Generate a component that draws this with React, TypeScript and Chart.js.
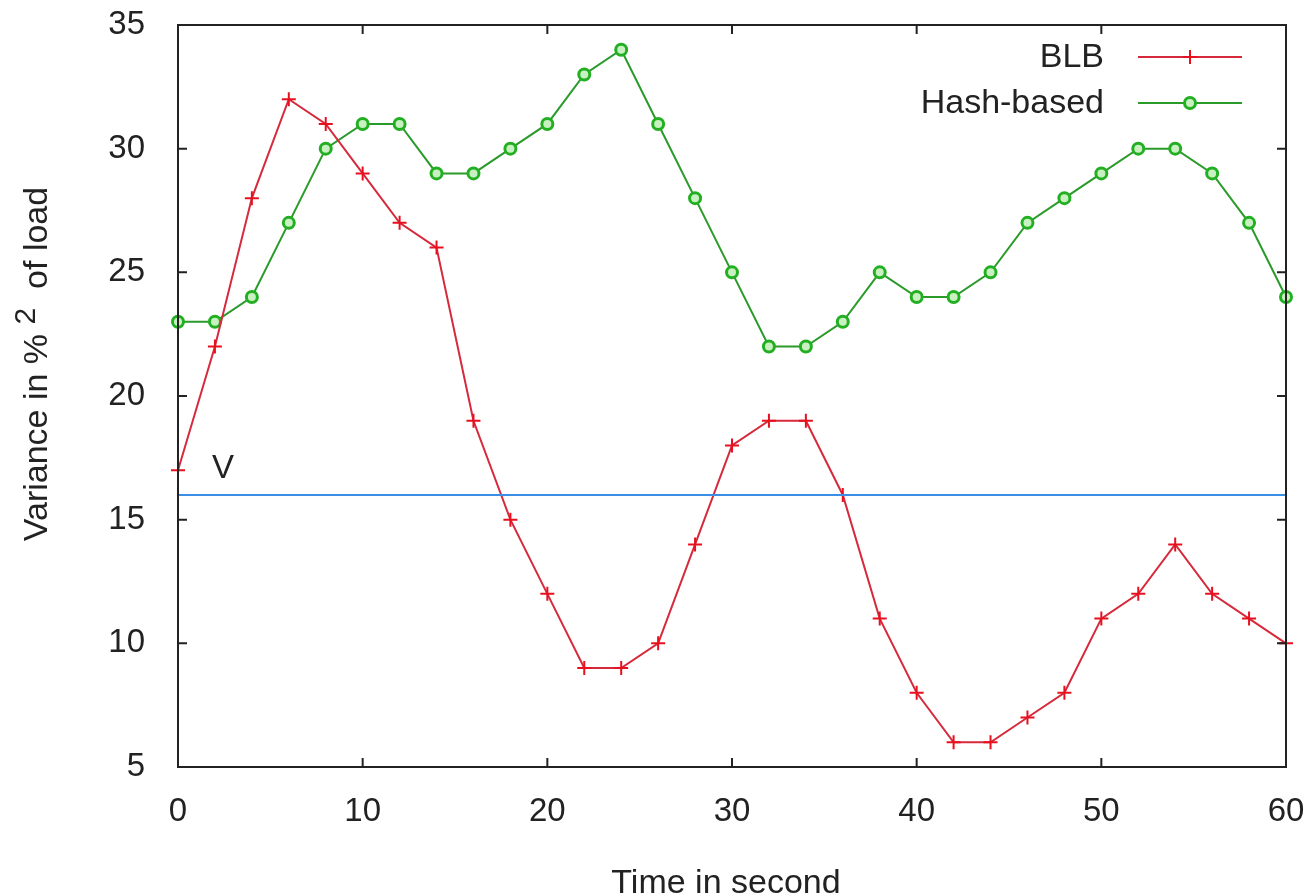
import React, { useEffect, useRef } from "react";
import { Chart, registerables } from "chart.js";

Chart.register(...registerables);

const timeSeconds = [0, 2, 4, 6, 8, 10, 12, 14, 16, 18, 20, 22, 24, 26, 28, 30, 32, 34, 36, 38, 40, 42, 44, 46, 48, 50, 52, 54, 56, 58, 60];
const blbValues = [17, 22, 28, 32, 31, 29, 27, 26, 19, 15, 12, 9, 9, 10, 14, 18, 19, 19, 16, 11, 8, 6, 6, 7, 8, 11, 12, 14, 12, 11, 10];
const hashValues = [23, 23, 24, 27, 30, 31, 31, 29, 29, 30, 31, 33, 34, 31, 28, 25, 22, 22, 23, 25, 24, 24, 25, 27, 28, 29, 30, 30, 29, 27, 24];
const thresholdV = 16;
const thresholdLabel = "V";
const seriesLabels = ["BLB", "Hash-based"];
const xTitle = "Time in second";
const yTitleParts = ["Variance in % ", "2", "  of load"];
const xRange = [0, 60];
const yRange = [5, 35];

const FONT = "'Liberation Sans', Arial, Helvetica, sans-serif";
const RED_LINE = "#d62a3c";
const RED_MARK = "#e8101e";
const GREEN_LINE = "#2a9a2a";
const GREEN_MARK = "#22b022";
const GREEN_FILL = "#c8f0c0";
const BLUE = "#3a8ee6";

function drawCross(ctx: CanvasRenderingContext2D, x: number, y: number, r: number, color: string) {
  ctx.save();
  ctx.strokeStyle = color;
  ctx.lineWidth = 2;
  ctx.beginPath();
  ctx.moveTo(x - r, y);
  ctx.lineTo(x + r, y);
  ctx.moveTo(x, y - r);
  ctx.lineTo(x, y + r);
  ctx.stroke();
  ctx.restore();
}

function drawRing(ctx: CanvasRenderingContext2D, x: number, y: number, r: number, color: string) {
  ctx.save();
  ctx.strokeStyle = color;
  ctx.fillStyle = GREEN_FILL;
  ctx.lineWidth = 3;
  ctx.beginPath();
  ctx.arc(x, y, r, 0, Math.PI * 2);
  ctx.fill();
  ctx.stroke();
  ctx.restore();
}

const framePlugin = {
  id: "gnuFrame",
  afterDatasetsDraw(chart: any) {
    const { ctx, chartArea, scales } = chart;
    const { left, right, top, bottom } = chartArea;
    const xs = scales.x;
    const ys = scales.y;
    ctx.save();
    ctx.strokeStyle = "#222";
    ctx.lineWidth = 2;
    ctx.strokeRect(left, top, right - left, bottom - top);
    const tl = 9;
    ctx.beginPath();
    for (let v = xRange[0] + 10; v < xRange[1]; v += 10) {
      const px = xs.getPixelForValue(v);
      ctx.moveTo(px, bottom);
      ctx.lineTo(px, bottom - tl);
      ctx.moveTo(px, top);
      ctx.lineTo(px, top + tl);
    }
    for (let v = yRange[0] + 5; v < yRange[1]; v += 5) {
      const py = ys.getPixelForValue(v);
      ctx.moveTo(left, py);
      ctx.lineTo(left + tl, py);
      ctx.moveTo(right, py);
      ctx.lineTo(right - tl, py);
    }
    ctx.stroke();

    ctx.fillStyle = "#222";
    ctx.font = `33px ${FONT}`;
    ctx.textAlign = "center";
    ctx.textBaseline = "middle";
    ctx.fillText(thresholdLabel, xs.getPixelForValue(0) + 45, ys.getPixelForValue(thresholdV) - 26);

    const legendRows = [
      { label: seriesLabels[0], line: RED_LINE, mark: "cross" },
      { label: seriesLabels[1], line: GREEN_LINE, mark: "ring" },
    ];
    legendRows.forEach((row, i) => {
      const y = 57 + i * 46;
      ctx.fillStyle = "#222";
      ctx.font = `34px ${FONT}`;
      ctx.textAlign = "right";
      ctx.textBaseline = "middle";
      ctx.fillText(row.label, 1104, y + 1);
      ctx.strokeStyle = row.line;
      ctx.lineWidth = 2;
      ctx.beginPath();
      ctx.moveTo(1138, y);
      ctx.lineTo(1242, y);
      ctx.stroke();
      if (row.mark === "cross") drawCross(ctx, 1190, y, 7, RED_MARK);
      else drawRing(ctx, 1190, y, 5.5, GREEN_MARK);
    });

    ctx.fillStyle = "#222";
    ctx.font = `34px ${FONT}`;
    ctx.textAlign = "center";
    ctx.textBaseline = "alphabetic";
    ctx.fillText(xTitle, (left + right) / 2 - 6, 893);

    ctx.save();
    ctx.translate(47, 364);
    ctx.rotate(-Math.PI / 2);
    const f1 = `34px ${FONT}`;
    const f2 = `30px ${FONT}`;
    ctx.font = f1;
    const w0 = ctx.measureText(yTitleParts[0]).width;
    const w2 = ctx.measureText(yTitleParts[2]).width;
    ctx.font = f2;
    const w1 = ctx.measureText(yTitleParts[1]).width;
    const total = w0 + w1 + w2;
    let cx = -total / 2;
    ctx.textAlign = "left";
    ctx.font = f1;
    ctx.fillText(yTitleParts[0], cx, 0);
    cx += w0;
    ctx.font = f2;
    ctx.fillText(yTitleParts[1], cx, -12);
    cx += w1;
    ctx.font = f1;
    ctx.fillText(yTitleParts[2], cx, 0);
    ctx.restore();

    ctx.restore();
  },
};

export default function App() {
  const canvasRef = useRef<HTMLCanvasElement | null>(null);

  useEffect(() => {
    const canvas = canvasRef.current;
    if (!canvas) return;
    const chart = new Chart(canvas, {
      type: "line",
      data: {
        datasets: [
          {
            label: "V-line",
            data: [
              { x: xRange[0], y: thresholdV },
              { x: xRange[1], y: thresholdV },
            ],
            borderColor: BLUE,
            borderWidth: 2,
            pointRadius: 0,
            fill: false,
          },
          {
            label: seriesLabels[0],
            data: timeSeconds.map((t, i) => ({ x: t, y: blbValues[i] })),
            borderColor: RED_LINE,
            borderWidth: 2,
            pointStyle: "cross",
            pointRadius: 7,
            pointBorderWidth: 2,
            pointBorderColor: RED_MARK,
            pointBackgroundColor: RED_MARK,
            fill: false,
            tension: 0,
          },
          {
            label: seriesLabels[1],
            data: timeSeconds.map((t, i) => ({ x: t, y: hashValues[i] })),
            borderColor: GREEN_LINE,
            borderWidth: 2,
            pointStyle: "circle",
            pointRadius: 5.5,
            pointBorderWidth: 3,
            pointBorderColor: GREEN_MARK,
            pointBackgroundColor: GREEN_FILL,
            fill: false,
            tension: 0,
          },
        ],
      },
      options: {
        responsive: false,
        animation: false,
        clip: false as any,
        layout: { padding: { top: 25, right: 24, left: 0, bottom: 0 } },
        plugins: {
          legend: { display: false },
          tooltip: { enabled: false },
          title: { display: false },
        },
        scales: {
          x: {
            type: "linear",
            min: xRange[0],
            max: xRange[1],
            grid: { display: false },
            border: { display: false },
            ticks: {
              stepSize: 10,
              padding: 17,
              color: "#222",
              font: { size: 33, family: FONT },
            },
            afterFit: (scale: any) => {
              scale.height = 129;
              scale.paddingLeft = 0;
              scale.paddingRight = 0;
              scale.paddingTop = 0;
              scale.paddingBottom = 0;
            },
          },
          y: {
            type: "linear",
            min: yRange[0],
            max: yRange[1],
            grid: { display: false },
            border: { display: false },
            ticks: {
              stepSize: 5,
              padding: 25,
              color: "#222",
              font: { size: 33, family: FONT },
            },
            afterFit: (scale: any) => {
              scale.width = 178;
              scale.paddingLeft = 0;
              scale.paddingRight = 0;
              scale.paddingTop = 0;
              scale.paddingBottom = 0;
            },
          },
        },
      },
      plugins: [framePlugin],
    });
    return () => chart.destroy();
  }, []);

  return (
    <div style={{ position: "fixed", left: 0, top: 0, width: 1310, height: 896, background: "#fff" }}>
      <canvas ref={canvasRef} width={1310} height={896} style={{ display: "block" }} />
    </div>
  );
}
